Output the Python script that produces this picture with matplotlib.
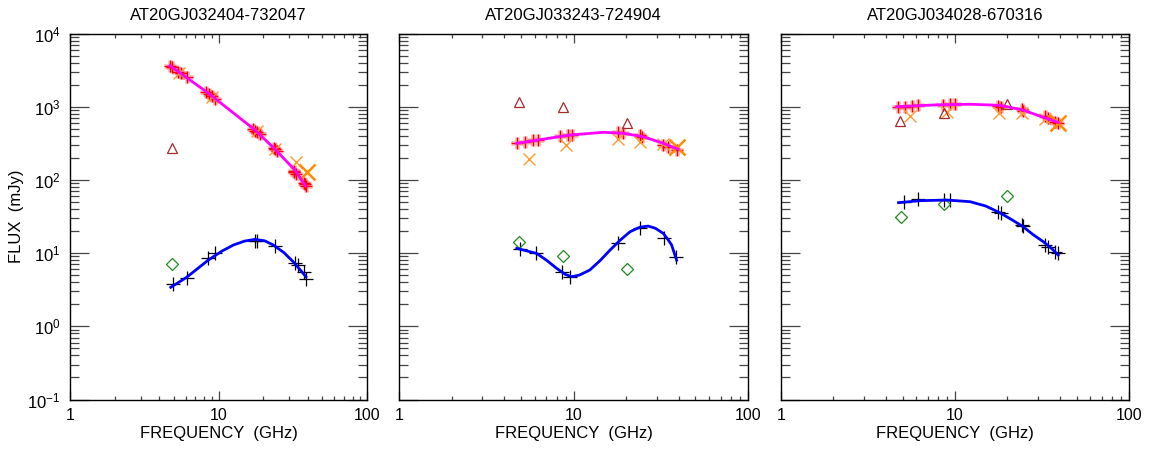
import matplotlib.pyplot as plt
import numpy as np
from matplotlib.ticker import NullFormatter

plt.rcParams['font.family'] = ['Liberation Sans', 'DejaVu Sans']
plt.rcParams['mathtext.fontset'] = 'custom'
plt.rcParams['mathtext.rm'] = 'Liberation Sans'
plt.rcParams['mathtext.it'] = 'Liberation Sans'

titles = ["AT20GJ032404-732047", "AT20GJ033243-724904", "AT20GJ034028-670316"]

# ---- panel 1 ----
red_f1 = [4.71, 4.9, 5.36, 5.6, 6.1, 8.3, 8.6, 9.0, 9.47, 17.2, 17.6, 18.2, 19.0, 23.5, 24.0, 24.6, 32.0, 32.4, 33.5, 37.5, 38.2, 39.0]
red_s1 = [3630, 3450, 3006, 2850, 2570, 1573, 1500, 1380, 1274, 490, 466, 445, 420, 270, 262, 250, 133, 129, 120, 90, 87, 83]
ora_f1 = [5.45, 9.0, 18.1, 24.0, 33.1, 39.2]
ora_s1 = [2860, 1370, 460, 262, 174, 127]
tri_f1 = [4.86]
tri_s1 = [270]
tot_fit_f1 = [4.71, 8.3, 17.6, 24.0, 32.7, 38.6]
tot_fit_s1 = [3630, 1600, 481, 263, 136, 82.6]
pol_f1 = [4.92, 6.1, 8.54, 9.47, 17.6, 18.3, 24.0, 32.7, 34.5, 37.6, 38.8]
pol_s1 = [3.75, 4.6, 8.5, 9.9, 14.8, 14.6, 12.6, 7.4, 6.9, 5.6, 4.4]
dia_f1 = [4.88]
dia_s1 = [7.1]
pol_fit_f1 = [4.77, 6.1, 8.55, 10.5, 12.6, 15.0, 17.6, 20.5, 23.4, 27.5, 31.9, 35.5, 38.8]
pol_fit_s1 = [3.41, 4.67, 8.05, 10.6, 12.9, 14.6, 15.4, 14.7, 12.9, 10.2, 7.6, 5.9, 4.76]

# ---- panel 2 ----
red_f2 = [4.73, 5.27, 5.89, 6.28, 8.37, 9.3, 9.85, 18.1, 19.3, 24.1, 24.6, 32.7, 34.9, 39.0]
red_s2 = [316, 333, 351, 356, 398, 410, 412, 447, 433, 410, 389, 300, 279, 256]
ora_f2 = [5.58, 9.06, 18.1, 24.1, 32.7, 39.0]
ora_s2 = [191, 300, 362, 333, 309, 279]
tri_f2 = [4.89, 8.67, 20.2]
tri_s2 = [1170, 982, 604]
tot_fit_f2 = [4.73, 9.5, 14.8, 19.3, 25.1, 32.7, 39.8]
tot_fit_s2 = [316, 410, 447, 433, 389, 316, 262]
pol_f2 = [4.94, 6.07, 8.56, 9.55, 17.9, 24.1, 33.0, 38.5]
pol_s2 = [11.4, 10.1, 5.57, 4.66, 13.9, 21.8, 16.3, 8.93]
dia_f2 = [4.89, 8.67, 20.2]
dia_s2 = [14.3, 9.1, 6.06]
pol_fit_f2 = [4.73, 6.15, 7.0, 8.0, 9.0, 9.75, 10.8, 12.4, 14.2, 16.2, 18.5, 21.1, 24.0, 26.8, 29.5, 32.7, 35.0, 36.5, 39.0]
pol_fit_s2 = [11.6, 9.9, 8.0, 6.2, 5.1, 4.76, 5.0, 5.87, 7.9, 11.0, 15.0, 19.6, 22.6, 23.4, 21.8, 18.6, 15.0, 12.9, 8.0]

# ---- panel 3 ----
red_f3 = [4.72, 5.16, 5.63, 6.15, 8.57, 9.35, 10.0, 17.7, 18.5, 24.2, 24.6, 32.9, 34.3, 37.6, 39.2]
red_s3 = [1000, 1000, 1032, 1057, 1057, 1080, 1080, 1032, 1000, 930, 880, 746, 694, 624, 608]
ora_f3 = [5.51, 8.96, 18.0, 24.2, 32.9, 39.2]
ora_s3 = [754, 855, 828, 812, 672, 608]
tri_f3 = [4.83, 8.64, 20.0]
tri_s3 = [644, 828, 1088]
tot_fit_f3 = [4.62, 7.85, 12.2, 18.1, 24.6, 32.2, 39.2]
tot_fit_s3 = [1000, 1060, 1080, 1045, 900, 716, 608]
pol_f3 = [5.07, 6.1, 8.64, 9.35, 17.7, 18.5, 24.2, 24.6, 32.9, 34.1, 37.6, 39.2]
pol_s3 = [50.4, 54.3, 53.1, 53.1, 36.7, 34.9, 24.2, 23.3, 12.9, 12.2, 10.4, 9.9]
dia_f3 = [4.87, 8.64, 20.0]
dia_s3 = [31.4, 46.9, 60.3]
pol_fit_f3 = [4.74, 6.29, 8.96, 12.2, 15.0, 18.1, 21.0, 24.6, 28.0, 32.2, 36.0, 39.2]
pol_fit_s3 = [48.9, 52.0, 53.1, 50.4, 44.0, 35.6, 29.0, 23.0, 18.0, 14.3, 11.5, 9.4]

panels = [
    (red_f1, red_s1, ora_f1, ora_s1, tri_f1, tri_s1, tot_fit_f1, tot_fit_s1,
     pol_f1, pol_s1, dia_f1, dia_s1, pol_fit_f1, pol_fit_s1),
    (red_f2, red_s2, ora_f2, ora_s2, tri_f2, tri_s2, tot_fit_f2, tot_fit_s2,
     pol_f2, pol_s2, dia_f2, dia_s2, pol_fit_f2, pol_fit_s2),
    (red_f3, red_s3, ora_f3, ora_s3, tri_f3, tri_s3, tot_fit_f3, tot_fit_s3,
     pol_f3, pol_s3, dia_f3, dia_s3, pol_fit_f3, pol_fit_s3),
]

W, H = 1153, 449
fig = plt.figure(figsize=(W / 100, H / 100), dpi=100)
boxes = [(70, 297), (399, 349), (781, 348)]
top, bot = 33.5, 399.5

for i, (box, data, title) in enumerate(zip(boxes, panels, titles)):
    (rf, rs, of, os_, tf, ts, tff, tfs, pf, ps, df, ds, pff, pfs) = data
    ax = fig.add_axes([box[0] / W, (H - bot) / H, box[1] / W, (bot - top) / H])
    ax.set_xscale('log')
    ax.set_yscale('log')
    ax.set_xlim(1, 100)
    ax.set_ylim(0.1, 1e4)

    # total intensity
    ax.plot(rf, rs, '+', color='#ff7070', ms=9, mew=3.5, alpha=0.45, zorder=3)
    ax.plot(rf, rs, '+', color='red', ms=9, mew=1.0, zorder=4)
    ax.plot(of[:-1], os_[:-1], 'x', color='#ff9a30', ms=8, mew=1.0, zorder=5)
    ax.plot(of[-1:], os_[-1:], 'x', color='#ff8c00', ms=12, mew=1.8, zorder=5)
    ax.plot(tf, ts, '^', mfc='none', mec='#a52a2a', ms=7, mew=0.9, zorder=5)
    ax.plot(tff, tfs, '-', color='magenta', lw=2, zorder=6)

    # polarized intensity
    ax.plot(pf, ps, '+', color='black', ms=10, mew=0.9, zorder=4)
    ax.plot(df, ds, 'D', mfc='none', mec='#228b22', ms=6, mew=0.9, zorder=5)
    ax.plot(pff, pfs, '-', color='blue', lw=2, zorder=6)

    ax.set_xticks([1, 10, 100], labels=['1', '10', '100'])
    ax.xaxis.set_minor_formatter(NullFormatter())
    ax.yaxis.set_minor_formatter(NullFormatter())
    ax.tick_params(axis='x', which='major', direction='in', length=6.5, width=0.9,
                   color='#444444', top=True, pad=6, labelsize=11.5)
    ax.tick_params(axis='x', which='minor', direction='in', length=3.2, width=0.9,
                   color='#444444', top=True)
    ax.tick_params(axis='y', which='major', direction='in', length=13.5, width=0.9,
                   color='#444444', right=True, pad=7, labelsize=12)
    ax.tick_params(axis='y', which='minor', direction='in', length=6.5, width=0.9,
                   color='#444444', right=True)
    for sp in ax.spines.values():
        sp.set_linewidth(1.0)
    if i == 0:
        ax.set_ylabel('FLUX  (mJy)', fontsize=12, labelpad=2)
    else:
        ax.tick_params(axis='y', labelleft=False)
    ax.set_xlabel('FREQUENCY  (GHz)', fontsize=12, labelpad=2)
    ax.set_title(title, fontsize=12, pad=10)

fig.savefig('out.png', dpi=100)
